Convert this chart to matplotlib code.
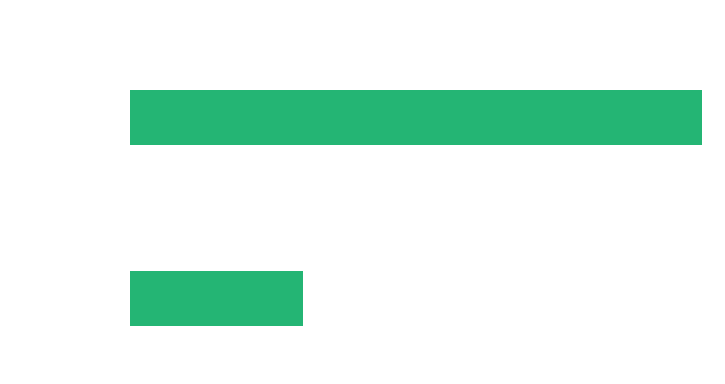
import matplotlib
matplotlib.use("Agg")
import matplotlib.pyplot as plt

# data
categories = ["B", "A"]
values = [30.2, 100]

fig = plt.figure(figsize=(7.25, 3.84), dpi=100)
ax = fig.add_axes([130 / 725, 0, 572 / 725, 1])
ax.barh(range(len(categories)), values, height=0.304, color="#24b574")
ax.set_xlim(0, max(values))
ax.set_ylim(-85.5 / 181, 1 + 117.5 / 181)
ax.axis("off")
fig.savefig("out.png", dpi=100)
